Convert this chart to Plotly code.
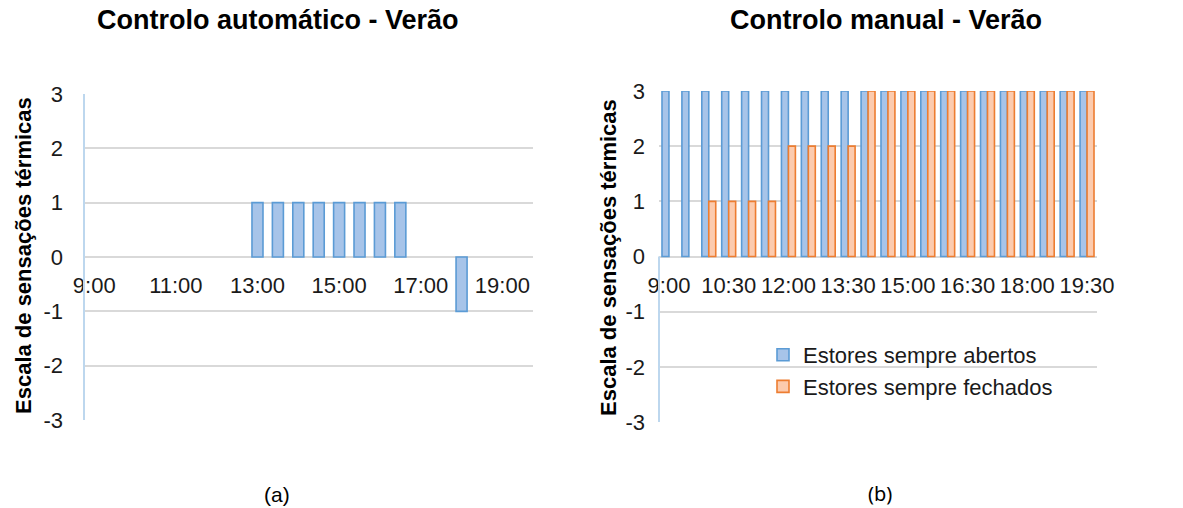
import plotly.graph_objects as go

# Half-hourly time slots (shared by both panels)
horas = ["9:00", "9:30", "10:00", "10:30", "11:00", "11:30", "12:00", "12:30",
         "13:00", "13:30", "14:00", "14:30", "15:00", "15:30", "16:00", "16:30",
         "17:00", "17:30", "18:00", "18:30", "19:00", "19:30"]

# (a) Automatic control - summer
auto_verao = [0, 0, 0, 0, 0, 0, 0, 0, 1, 1, 1, 1, 1, 1, 1, 1, 0, 0, -1, 0, 0, 0]

# (b) Manual control - summer
estores_abertos = [3, 3, 3, 3, 3, 3, 3, 3, 3, 3, 3, 3, 3, 3, 3, 3, 3, 3, 3, 3, 3, 3]
estores_fechados = [0, 0, 1, 1, 1, 1, 2, 2, 2, 2, 3, 3, 3, 3, 3, 3, 3, 3, 3, 3, 3, 3]

ticks_a = ["9:00", "11:00", "13:00", "15:00", "17:00", "19:00"]
ticks_b = ["9:00", "10:30", "12:00", "13:30", "15:00", "16:30", "18:00", "19:30"]
y_ticks = [3, 2, 1, 0, -1, -2, -3]

W, H = 1183, 508
FONT = "Liberation Sans, Arial, sans-serif"
BLUE_FILL, BLUE_LINE = "#a7c4e9", "#5b9bd5"
ORANGE_FILL, ORANGE_LINE = "#fccbae", "#ed7d31"
GRID = "#d9d9d9"
AXIS_BLUE = "#bdd7ee"
TXT = "#1a1a1a"

# plot-area geometry in pixels
ax_a = dict(x0=84, x1=533, y0=94, y1=420)
ax_b = dict(x0=659, x1=1097, y0=91, y1=422)


def xdom(a):
    return [a["x0"] / W, a["x1"] / W]


def ydom(a):
    return [1 - a["y1"] / H, 1 - a["y0"] / H]


def nonzero(values):
    # a zero score leaves its slot empty (no flat outline at the baseline)
    return [v if v != 0 else None for v in values]


fig = go.Figure()

fig.add_trace(go.Bar(
    x=horas, y=nonzero(auto_verao), xaxis="x", yaxis="y", width=0.54,
    marker=dict(color=BLUE_FILL, line=dict(color=BLUE_LINE, width=1.6)),
    showlegend=False, name="Controlo automático"))

fig.add_trace(go.Bar(
    x=horas, y=nonzero(estores_abertos), xaxis="x2", yaxis="y2",
    marker=dict(color=BLUE_FILL, line=dict(color=BLUE_LINE, width=1.6)),
    name="Estores sempre abertos"))
fig.add_trace(go.Bar(
    x=horas, y=nonzero(estores_fechados), xaxis="x2", yaxis="y2",
    marker=dict(color=ORANGE_FILL, line=dict(color=ORANGE_LINE, width=1.6)),
    name="Estores sempre fechados"))

tick_font = dict(family=FONT, size=22, color=TXT)


def xaxis_cfg(a, ticks):
    yd = ydom(a)
    return dict(
        domain=xdom(a), anchor="free", position=(yd[0] + yd[1]) / 2,
        type="category", categoryorder="array",
        categoryarray=horas, range=[-0.5, len(horas) - 0.5],
        tickmode="array", tickvals=ticks, ticktext=ticks,
        showgrid=False, showline=False, zeroline=False, ticks="",
        ticklabelstandoff=13, tickfont=tick_font, tickangle=0,
        automargin=False,
    )


def yaxis_cfg(a, anchor_x, standoff):
    return dict(
        domain=ydom(a), anchor=anchor_x, range=[-3, 3],
        tickmode="array", tickvals=y_ticks, ticktext=[str(v) for v in y_ticks],
        showgrid=True, gridcolor=GRID, gridwidth=1.5,
        zeroline=True, zerolinecolor=GRID, zerolinewidth=1.5,
        showline=False, ticks="", ticklabelstandoff=standoff, tickfont=tick_font,
        automargin=False,
    )


fig.update_layout(
    width=W, height=H, margin=dict(l=0, r=0, t=0, b=0),
    paper_bgcolor="white", plot_bgcolor="white",
    barmode="group", bargap=0.3, bargroupgap=0.0,
    xaxis=xaxis_cfg(ax_a, ticks_a),
    yaxis=yaxis_cfg(ax_a, "x", 20),
    xaxis2=xaxis_cfg(ax_b, ticks_b),
    yaxis2=yaxis_cfg(ax_b, "x2", 13),
    legend=dict(
        x=763 / W, y=1 - 334 / H, xanchor="left", yanchor="top",
        bgcolor="rgba(0,0,0,0)", font=dict(family=FONT, size=22, color=TXT),
        itemwidth=30, tracegroupgap=0,
    ),
    font=dict(family=FONT),
)

# light-blue vertical axis lines
fig.add_shape(type="line", xref="x domain", yref="y", x0=0, x1=0, y0=-3, y1=3,
              line=dict(color=AXIS_BLUE, width=2))
fig.add_shape(type="line", xref="x2 domain", yref="y2", x0=0, x1=0, y0=-3, y1=0,
              line=dict(color=AXIS_BLUE, width=2))


def label(text, x, y, size, family=FONT, angle=0):
    return dict(text=text, x=x / W, y=1 - y / H, xref="paper", yref="paper",
                xanchor="center", yanchor="middle", showarrow=False,
                textangle=angle, font=dict(family=family, size=size, color="#000000"))


annotations = [
    label("<b>Controlo automático - Verão</b>", 278, 20, 27),
    label("<b>Controlo manual - Verão</b>", 886, 20, 27),
    label("<b>Escala de sensações térmicas</b>", 23, 256, 22, angle=-90),
    label("<b>Escala de sensações térmicas</b>", 608, 258, 22, angle=-90),
    label("(a)", 277, 494, 21),
    label("(b)", 880, 493, 20, family="Noto Sans, sans-serif"),
]
fig.update_layout(annotations=annotations)

fig.write_html("out.html")
